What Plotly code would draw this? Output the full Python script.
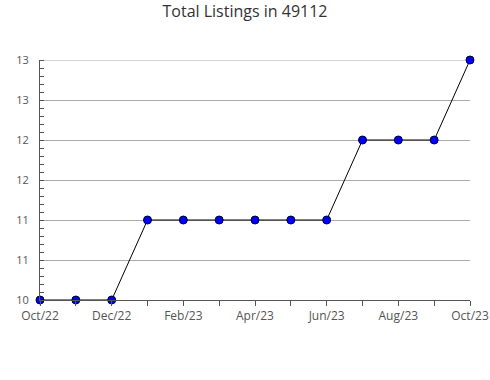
import plotly.graph_objects as go

months = ["Oct/22", "Nov/22", "Dec/22", "Jan/23", "Feb/23", "Mar/23", "Apr/23",
          "May/23", "Jun/23", "Jul/23", "Aug/23", "Sep/23", "Oct/23"]
listings = [10, 10, 10, 11, 11, 11, 11, 11, 11, 12, 12, 12, 13]
y_ticks = [10, 10.5, 11, 11.5, 12, 12.5, 13]
y_labels = ["10", "11", "11", "12", "12", "13", "13"]

x = list(range(len(months)))

fig = go.Figure()
fig.add_trace(go.Scatter(
    x=x, y=listings, mode="lines+markers",
    line=dict(color="black", width=1),
    marker=dict(color="#0000ff", size=8, line=dict(color="#000033", width=1)),
    cliponaxis=False,
))

fig.update_layout(
    width=490, height=380,
    margin=dict(l=40, r=20, t=60, b=80, autoexpand=False),
    paper_bgcolor="white", plot_bgcolor="white",
    title=dict(text="Total Listings in 49112", x=0.5, xanchor="center", y=0.985, yanchor="top",
               font=dict(family="Open Sans", size=16, color="#333")),
    showlegend=False,
    font=dict(family="Open Sans", size=11, color="#555"),
)
# top gridline (at the highest tick)
fig.add_shape(type="line", xref="paper", yref="y", x0=0, x1=1,
              y0=y_ticks[-1], y1=y_ticks[-1],
              line=dict(color="#aaaaaa", width=1), layer="below")
fig.update_xaxes(
    range=[0, len(months) - 1],
    tickmode="array", tickvals=x,
    ticktext=[m if i % 2 == 0 else "" for i, m in enumerate(months)],
    ticks="outside", ticklen=5, tickcolor="#555",
    showline=True, linecolor="#555", linewidth=1,
    showgrid=False, zeroline=False, automargin=False,
    tickfont=dict(size=12, color="#555"),
)
fig.update_yaxes(
    range=[10, 13],
    tickmode="array", tickvals=y_ticks, ticktext=y_labels,
    ticks="", ticklabelstandoff=8,
    showline=True, linecolor="#555", linewidth=1,
    showgrid=True, gridcolor="#aaaaaa", gridwidth=1,
    zeroline=False, automargin=False,
    tickfont=dict(size=11, color="#555"),
    minor=dict(dtick=0.1, ticks="inside", ticklen=4, tickcolor="#555", showgrid=False),
)

fig.write_html("out.html")
